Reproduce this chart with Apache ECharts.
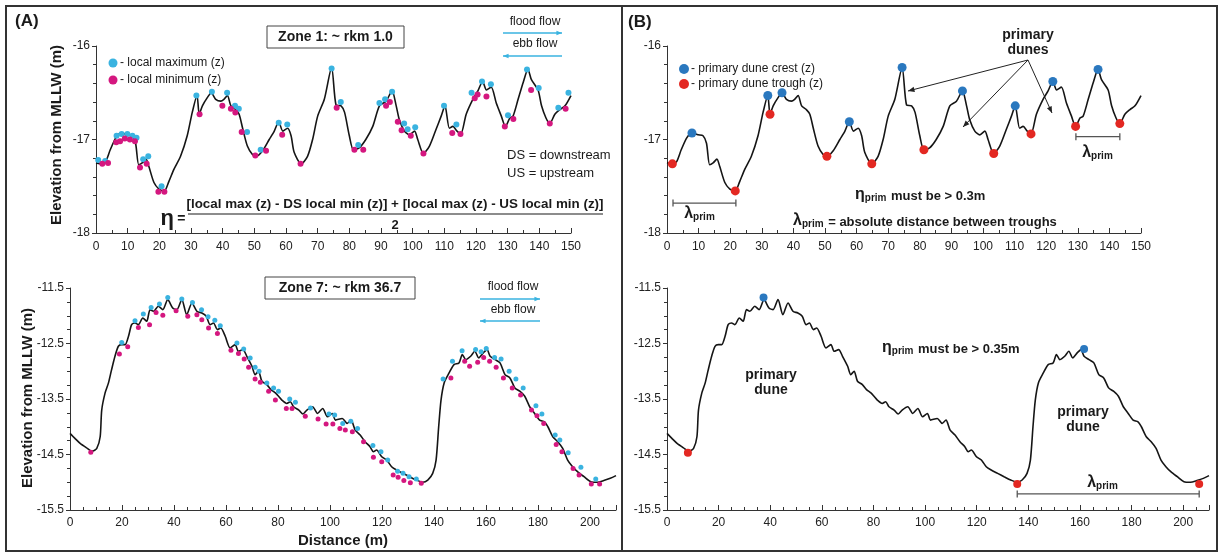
<!DOCTYPE html>
<html>
<head>
<meta charset="utf-8">
<script src="https://cdn.jsdelivr.net/npm/echarts@6.0.0/dist/echarts.min.js"></script>
<style>
  html, body { margin: 0; padding: 0; background: #fff; }
  #main { width: 1219px; height: 554px; }
</style>
</head>
<body>
<div id="main"></div>
<script>
// Zone 1 profile (distance m, elevation m)
var zone1Profile = [[0,-17.25],[1.7,-17.26],[3,-17.24],[4.5,-17.11],[6.3,-16.98],[7.9,-16.93],[9.8,-16.95],[11.4,-16.96],[12.5,-17.04],[13.5,-17.27],[14.6,-17.25],[15.8,-17.21],[16.7,-17.29],[18.3,-17.46],[19.9,-17.53],[21.6,-17.55],[23,-17.45],[24.6,-17.32],[26.7,-17.18],[28.8,-16.96],[30.4,-16.71],[31.9,-16.53],[32.6,-16.73],[33.6,-16.64],[35.2,-16.55],[36.4,-16.50],[37.8,-16.57],[39.4,-16.59],[40.4,-16.57],[41.5,-16.53],[42.6,-16.64],[44.1,-16.68],[45.2,-16.73],[46.3,-16.88],[47.8,-17.07],[49.4,-17.16],[50.6,-17.18],[52.6,-17.12],[54.7,-17.00],[56.3,-16.91],[57.7,-16.81],[59,-16.91],[60.5,-16.88],[61.6,-16.96],[62.6,-17.14],[64.8,-17.26],[66.8,-17.18],[68.4,-17.00],[70,-16.75],[72.1,-16.57],[74.4,-16.23],[75.8,-16.63],[77.4,-16.64],[78.5,-16.71],[80,-16.96],[81.3,-17.11],[83.1,-17.09],[85.2,-17.00],[87.4,-16.86],[89.5,-16.64],[91.6,-16.59],[93.5,-16.48],[94.8,-16.64],[95.8,-16.79],[97.4,-16.91],[99,-16.95],[100.6,-16.91],[101.6,-17.00],[103.4,-17.15],[105.3,-17.07],[107.4,-16.89],[109,-16.75],[110.2,-16.64],[111.6,-16.88],[112.7,-16.86],[114,-16.91],[115.2,-16.94],[116.9,-16.73],[119,-16.57],[120.6,-16.48],[122.1,-16.38],[123.3,-16.47],[124.8,-16.44],[126.4,-16.61],[128,-16.75],[129.3,-16.86],[130.7,-16.77],[131.7,-16.75],[133.3,-16.57],[134.9,-16.39],[136.4,-16.25],[137.5,-16.36],[139.6,-16.47],[140.7,-16.64],[142.1,-16.77],[143.3,-16.83],[144.9,-16.73],[146.5,-16.68],[148.1,-16.64],[150,-16.53]];

var zone1LocalMax = [[0.7,-17.22],[2.9,-17.23],[6.5,-16.96],[8.1,-16.94],[9.9,-16.94],[11.5,-16.96],[12.8,-16.98],[14.9,-17.21],[16.5,-17.18],[20.7,-17.50],[31.7,-16.53],[36.6,-16.49],[41.4,-16.50],[43.9,-16.64],[45.1,-16.67],[47.7,-16.92],[52,-17.11],[57.7,-16.82],[60.4,-16.84],[74.4,-16.24],[77.3,-16.60],[82.8,-17.06],[89.5,-16.61],[91.3,-16.57],[93.5,-16.49],[97.3,-16.83],[98.4,-16.89],[100.8,-16.87],[109.9,-16.64],[113.8,-16.84],[118.6,-16.50],[121.9,-16.38],[124.7,-16.41],[130.1,-16.74],[136.1,-16.25],[139.8,-16.45],[146,-16.66],[149.2,-16.50]];

var zone1LocalMin = [[2,-17.26],[3.8,-17.25],[6.4,-17.03],[7.6,-17.02],[9.1,-16.99],[10.7,-17.00],[12.3,-17.02],[13.9,-17.30],[16,-17.26],[19.7,-17.56],[21.6,-17.56],[32.7,-16.73],[39.9,-16.64],[42.6,-16.67],[44,-16.71],[46,-16.92],[50.3,-17.17],[53.7,-17.12],[58.8,-16.95],[64.6,-17.26],[76,-16.66],[81.6,-17.11],[84.4,-17.11],[91.6,-16.64],[92.8,-16.60],[95.3,-16.81],[96.5,-16.90],[99.4,-16.96],[103.4,-17.15],[112.5,-16.93],[115.1,-16.94],[119.6,-16.56],[120.5,-16.52],[123.3,-16.54],[129.1,-16.86],[131.8,-16.78],[137.4,-16.47],[143.3,-16.83],[148.3,-16.67]];

var zone1Crests = [[7.9,-16.93],[31.9,-16.53],[36.4,-16.50],[57.7,-16.81],[74.4,-16.23],[93.5,-16.48],[110.2,-16.64],[122.1,-16.38],[136.4,-16.25]];
var zone1Troughs = [[1.7,-17.26],[21.6,-17.55],[32.6,-16.73],[50.6,-17.18],[64.8,-17.26],[81.3,-17.11],[103.4,-17.15],[115.2,-16.94],[129.3,-16.86],[143.3,-16.83]];

// Zone 7 profile
var zone7Profile = [[0,-14.12],[1.9,-14.21],[3.9,-14.30],[6.4,-14.38],[8.5,-14.44],[10.3,-14.39],[11.6,-14.18],[12.2,-13.70],[13.5,-13.39],[14.8,-13.21],[16,-12.97],[17.3,-12.73],[18.6,-12.55],[19.9,-12.52],[21.2,-12.52],[22.5,-12.37],[23.7,-12.16],[25,-12.13],[26.3,-12.16],[28,-12.04],[29.5,-12.10],[30.8,-11.89],[32.1,-11.92],[34,-11.83],[35.7,-11.89],[37.6,-11.71],[39.5,-11.86],[41.1,-11.89],[43,-11.71],[44.9,-11.98],[46.9,-11.77],[48.8,-11.92],[50.7,-11.95],[52.4,-12.01],[53.9,-12.16],[55.2,-12.13],[56.7,-12.25],[58,-12.22],[59.7,-12.37],[61.6,-12.58],[63.5,-12.52],[64.8,-12.64],[66.5,-12.61],[68,-12.73],[70,-12.91],[71.2,-13.06],[72.5,-13.00],[73.8,-13.18],[75.7,-13.24],[77.3,-13.33],[79,-13.39],[80.2,-13.45],[81.5,-13.52],[83.4,-13.58],[84.7,-13.55],[86,-13.64],[88,-13.70],[89.6,-13.77],[91.1,-13.70],[93.3,-13.64],[95.2,-13.76],[97.2,-13.67],[99,-13.82],[100.9,-13.76],[102.1,-13.88],[104.7,-13.85],[106.6,-13.94],[108.1,-13.88],[109.7,-14.06],[111.6,-14.15],[113.5,-14.27],[115.4,-14.36],[116.7,-14.45],[117.9,-14.42],[119.9,-14.54],[121.8,-14.60],[123.7,-14.72],[125.6,-14.78],[128.1,-14.84],[130.6,-14.90],[133.2,-14.96],[135.7,-15.00],[137.6,-14.96],[139.5,-14.84],[140.8,-14.60],[141.8,-14.00],[142.7,-13.52],[143.9,-13.21],[145.8,-13.03],[147.7,-12.88],[149.6,-12.85],[150.9,-12.70],[152.2,-12.79],[154.1,-12.73],[155.7,-12.64],[157.2,-12.76],[159.1,-12.66],[160.4,-12.61],[161.6,-12.73],[163.5,-12.79],[165.4,-12.85],[167.3,-13.06],[169.2,-13.12],[171.1,-13.30],[173,-13.36],[174.9,-13.45],[176.8,-13.64],[178.7,-13.76],[180.6,-13.88],[182.5,-13.91],[183.8,-14.00],[185.7,-14.18],[187.6,-14.27],[189.5,-14.39],[191.4,-14.60],[193.3,-14.72],[195.2,-14.81],[197.7,-14.90],[200.3,-14.99],[202.8,-15.00],[205.3,-14.97],[207.8,-14.93],[210,-14.88]];

var zone7LocalMax = [[19.9,-12.48],[25,-12.09],[28.2,-11.97],[31.2,-11.85],[34.4,-11.79],[37.6,-11.67],[43,-11.70],[47.1,-11.76],[50.6,-11.89],[53.1,-12.02],[55.7,-12.08],[57.8,-12.18],[64.2,-12.49],[66.8,-12.60],[69.3,-12.76],[71.2,-12.93],[72.7,-13.00],[75.7,-13.21],[78.3,-13.30],[80.2,-13.36],[84.5,-13.50],[86.7,-13.56],[92.5,-13.66],[99.6,-13.77],[101.8,-13.79],[104.9,-13.94],[108,-13.90],[110.6,-14.03],[116.5,-14.34],[119.6,-14.45],[122.2,-14.60],[126,-14.80],[128.1,-14.84],[130.4,-14.90],[133.2,-14.94],[143.5,-13.14],[147.1,-12.82],[150.8,-12.63],[156,-12.61],[158.1,-12.65],[160.1,-12.59],[163.3,-12.75],[165.8,-12.78],[168.9,-13.00],[171.5,-13.14],[174.3,-13.30],[179.2,-13.62],[181.5,-13.77],[186.6,-14.15],[188.4,-14.24],[191.6,-14.47],[196.5,-14.73],[202.2,-14.94]];

var zone7LocalMin = [[8,-14.46],[19,-12.69],[22.2,-12.56],[26.3,-12.21],[30.6,-12.16],[33.1,-11.94],[35.7,-11.99],[40.8,-11.91],[45.3,-12.01],[48.8,-11.98],[50.7,-12.07],[53.3,-12.22],[56.7,-12.32],[61.9,-12.62],[64.8,-12.68],[67,-12.78],[68.7,-12.93],[71.2,-13.14],[73.2,-13.20],[76.4,-13.36],[79,-13.52],[83.2,-13.67],[85.4,-13.67],[90.5,-13.81],[95.4,-13.86],[98.5,-13.95],[101.1,-13.95],[103.8,-14.03],[105.9,-14.06],[108.6,-14.09],[112.9,-14.27],[116.7,-14.55],[119.9,-14.63],[124.3,-14.87],[126.2,-14.91],[128.4,-14.97],[130.9,-15.01],[135.1,-15.02],[146.5,-13.12],[151.8,-12.82],[153.7,-12.91],[156.8,-12.84],[159.1,-12.75],[161.4,-12.82],[163.9,-12.93],[166.7,-13.12],[170.1,-13.30],[173.3,-13.43],[177.5,-13.70],[179.6,-13.80],[182.2,-13.94],[187,-14.32],[189.2,-14.45],[193.5,-14.75],[195.8,-14.87],[200.5,-15.03],[203.7,-15.03]];

var zone7Crests = [[37.4,-11.67],[161.6,-12.60]];
var zone7Troughs = [[8.1,-14.47],[135.7,-15.03],[206.2,-15.03]];

// wavelength bars (start, end, elevation)
var lambdaZone1A = [[1.9,-17.68],[21.8,-17.68]];
var lambdaZone1B = [[129.4,-16.97],[143.3,-16.97]];
var lambdaZone7 = [[135.7,-15.21],[206.2,-15.21]];

var FONT = '"Liberation Sans", Arial, sans-serif';
var AXC = '#333';
var CYAN = '#3ab3e0', MAGENTA = '#d4177f', BLUE = '#2a78bf', RED = '#e32822';

function xAx(gi, max, interval, minorSplit, labelMargin) {
    return {
        type: 'value', gridIndex: gi, min: 0, max: max, interval: interval,
        axisLine: { lineStyle: { color: AXC, width: 1 } },
        axisTick: { inside: true, length: 5, lineStyle: { color: AXC } },
        minorTick: { show: true, splitNumber: minorSplit, length: 3, lineStyle: { color: AXC } },
        axisLabel: { color: '#222', fontSize: 12, fontFamily: FONT, margin: labelMargin, showMaxLabel: max % interval === 0 },
        splitLine: { show: false }
    };
}

function yAx(gi, min, max, minorSplit) {
    return {
        type: 'value', gridIndex: gi, min: min, max: max, interval: 1,
        axisLine: { show: true, lineStyle: { color: AXC, width: 1 } },
        axisTick: { show: true, inside: false, length: 4, lineStyle: { color: AXC } },
        minorTick: { show: true, splitNumber: minorSplit, length: 3, lineStyle: { color: AXC } },
        axisLabel: { color: '#222', fontSize: 12, fontFamily: FONT, margin: 6 },
        splitLine: { show: false }
    };
}

function profile(gi, data) {
    return {
        type: 'line', xAxisIndex: gi, yAxisIndex: gi, data: data,
        showSymbol: false, smooth: 0.25, silent: true, z: 2,
        lineStyle: { color: '#151515', width: 1.6 }
    };
}

function dots(gi, data, color, size) {
    return {
        type: 'scatter', xAxisIndex: gi, yAxisIndex: gi, data: data,
        symbolSize: size, silent: true, z: 4,
        itemStyle: { color: color, opacity: 1 }
    };
}

function lambdaBar(gi, data) {
    return {
        type: 'line', xAxisIndex: gi, yAxisIndex: gi, data: data,
        symbol: 'rect', symbolSize: [1.3, 7], showSymbol: true, silent: true, z: 3,
        lineStyle: { color: '#555', width: 1.2 }, itemStyle: { color: '#555' }
    };
}

function arrow(x1, y1, x2, y2, color, w, head) {
    var a = Math.atan2(y2 - y1, x2 - x1);
    var h = head || 7;
    var p1 = [x2 - h * Math.cos(a - 0.38), y2 - h * Math.sin(a - 0.38)];
    var p2 = [x2 - h * Math.cos(a + 0.38), y2 - h * Math.sin(a + 0.38)];
    return [
        { type: 'line', shape: { x1: x1, y1: y1, x2: x2, y2: y2 }, style: { stroke: color, lineWidth: w } },
        { type: 'polygon', shape: { points: [[x2, y2], p1, p2] }, style: { fill: color } }
    ];
}

function txt(x, y, text, font, align, extra) {
    var o = { type: 'text', x: x, y: y, z: 10,
        style: { text: text, font: font, fill: '#1a1a1a', align: align || 'center', verticalAlign: 'middle' } };
    if (extra) { for (var k in extra) o[k] = extra[k]; }
    return o;
}

// rich text with "prim" subscript
function subTxt(x, y, parts, size, align) {
    return { type: 'text', x: x, y: y, z: 10,
        style: {
            text: parts, align: align || 'left', verticalAlign: 'middle', fill: '#1a1a1a',
            rich: {
                g: { font: 'bold ' + (size + 3) + 'px ' + FONT, lineHeight: 18, verticalAlign: 'bottom' },
                s: { font: 'bold ' + (size - 3) + 'px ' + FONT, lineHeight: 12, verticalAlign: 'bottom', padding: [0, 1, 0, 0] },
                t: { font: 'bold ' + size + 'px ' + FONT, lineHeight: 16, verticalAlign: 'bottom' }
            }
        } };
}

var gfx = [
    { type: 'rect', shape: { x: 6, y: 6, width: 1211, height: 545 }, style: { fill: 'none', stroke: '#333', lineWidth: 2 }, z: 0 },
    { type: 'line', shape: { x1: 622, y1: 6, x2: 622, y2: 551 }, style: { stroke: '#333', lineWidth: 2 } },
    txt(15, 21, '(A)', 'bold 17px ' + FONT, 'left'),
    txt(628, 22, '(B)', 'bold 17px ' + FONT, 'left'),
    // y axis titles
    txt(57, 135, 'Elevation from MLLW (m)', 'bold 15px ' + FONT, 'center', { rotation: Math.PI / 2 }),
    txt(28, 398, 'Elevation from MLLW (m)', 'bold 15px ' + FONT, 'center', { rotation: Math.PI / 2 }),
    txt(343, 541, 'Distance (m)', 'bold 15px ' + FONT, 'center'),
    // zone boxes
    { type: 'rect', shape: { x: 267, y: 26, width: 137, height: 22 }, style: { fill: '#fff', stroke: '#444', lineWidth: 1 } },
    txt(335.5, 37.5, 'Zone 1: ~ rkm 1.0', 'bold 14px ' + FONT),
    { type: 'rect', shape: { x: 265, y: 277, width: 150, height: 22 }, style: { fill: '#fff', stroke: '#444', lineWidth: 1 } },
    txt(340, 288.5, 'Zone 7: ~ rkm 36.7', 'bold 14px ' + FONT),
    // flow labels
    txt(535, 22, 'flood flow', '12px ' + FONT),
    txt(535, 44, 'ebb flow', '12px ' + FONT),
    txt(513, 287, 'flood flow', '12px ' + FONT),
    txt(513, 310, 'ebb flow', '12px ' + FONT),
    // legend A
    { type: 'circle', shape: { cx: 113, cy: 63, r: 4.5 }, style: { fill: CYAN } },
    { type: 'circle', shape: { cx: 113, cy: 80, r: 4.5 }, style: { fill: MAGENTA } },
    txt(120, 63, '- local maximum (z)', '12px ' + FONT, 'left'),
    txt(120, 80, '- local minimum (z)', '12px ' + FONT, 'left'),
    // legend B
    { type: 'circle', shape: { cx: 684, cy: 69, r: 5 }, style: { fill: BLUE } },
    { type: 'circle', shape: { cx: 684, cy: 84, r: 5 }, style: { fill: RED } },
    txt(691, 69, '- primary dune crest (z)', '12px ' + FONT, 'left'),
    txt(691, 84, '- primary dune trough (z)', '12px ' + FONT, 'left'),
    // DS / US
    txt(507, 155, 'DS = downstream', '13px ' + FONT, 'left'),
    txt(507, 173, 'US = upstream', '13px ' + FONT, 'left'),
    // eta formula
    txt(173, 219, '{e|η} {q|=}', '', 'center', { style: { text: '{e|η} {q|=}', align: 'center', verticalAlign: 'middle', fill: '#1a1a1a',
        rich: { e: { font: 'bold 22px ' + FONT }, q: { font: 'bold 14px ' + FONT } } } }),
    txt(395, 204, '[local max (z) - DS local min (z)] + [local max (z) - US local min (z)]', 'bold 13.4px ' + FONT),
    { type: 'line', shape: { x1: 188, y1: 214, x2: 603, y2: 214 }, style: { stroke: '#1a1a1a', lineWidth: 1.2 } },
    txt(395, 225, '2', 'bold 13px ' + FONT),
    // panel B annotations
    txt(1028, 35, 'primary', 'bold 14px ' + FONT),
    txt(1028, 50, 'dunes', 'bold 14px ' + FONT),
    subTxt(855, 194, '{g|η}{s|prim}{t| must be > 0.3m}', 13, 'left'),
    subTxt(793, 220, '{g|λ}{s|prim}{t| = absolute distance between troughs}', 13, 'left'),
    subTxt(700, 213, '{g|λ}{s|prim}', 13, 'center'),
    subTxt(1098, 152, '{g|λ}{s|prim}', 13, 'center'),
    subTxt(882, 347, '{g|η}{s|prim}{t| must be > 0.35m}', 13, 'left'),
    subTxt(1103, 482, '{g|λ}{s|prim}', 13, 'center'),
    txt(771, 375, 'primary', 'bold 14px ' + FONT),
    txt(771, 390, 'dune', 'bold 14px ' + FONT),
    txt(1083, 412, 'primary', 'bold 14px ' + FONT),
    txt(1083, 427, 'dune', 'bold 14px ' + FONT)
];

gfx = gfx.concat(
    arrow(503, 33, 562, 33, CYAN, 1.3, 6),
    arrow(562, 56, 503, 56, CYAN, 1.3, 6),
    arrow(480, 299, 540, 299, CYAN, 1.3, 6),
    arrow(540, 321, 480, 321, CYAN, 1.3, 6),
    arrow(1028, 60, 908, 91, '#222', 1, 7),
    arrow(1028, 60, 963, 127, '#222', 1, 7),
    arrow(1028, 60, 1052, 113, '#222', 1, 7)
);

var chart = echarts.init(document.getElementById('main'), null, { renderer: 'canvas' });
chart.setOption({
    backgroundColor: '#fff',
    animation: false,
    grid: [
        { left: 96, top: 46, width: 475, height: 187, outerBoundsMode: 'none' },
        { left: 70, top: 288, width: 546, height: 222, outerBoundsMode: 'none' },
        { left: 667, top: 46, width: 474, height: 187, outerBoundsMode: 'none' },
        { left: 667, top: 288, width: 542, height: 222, outerBoundsMode: 'none' }
    ],
    xAxis: [
        xAx(0, 150, 10, 2, 8),
        xAx(1, 210, 20, 4, 7),
        xAx(2, 150, 10, 2, 8),
        xAx(3, 210, 20, 4, 7)
    ],
    yAxis: [
        yAx(0, -18, -16, 5),
        yAx(1, -15.5, -11.5, 4),
        yAx(2, -18, -16, 5),
        yAx(3, -15.5, -11.5, 4)
    ],
    series: [
        profile(0, zone1Profile),
        dots(0, zone1LocalMax, CYAN, 6),
        dots(0, zone1LocalMin, MAGENTA, 6),
        profile(1, zone7Profile),
        dots(1, zone7LocalMax, CYAN, 5),
        dots(1, zone7LocalMin, MAGENTA, 5),
        profile(2, zone1Profile),
        lambdaBar(2, lambdaZone1A),
        lambdaBar(2, lambdaZone1B),
        dots(2, zone1Crests, BLUE, 9),
        dots(2, zone1Troughs, RED, 9),
        profile(3, zone7Profile),
        lambdaBar(3, lambdaZone7),
        dots(3, zone7Crests, BLUE, 8),
        dots(3, zone7Troughs, RED, 8)
    ],
    graphic: gfx
});
</script>
</body>
</html>
